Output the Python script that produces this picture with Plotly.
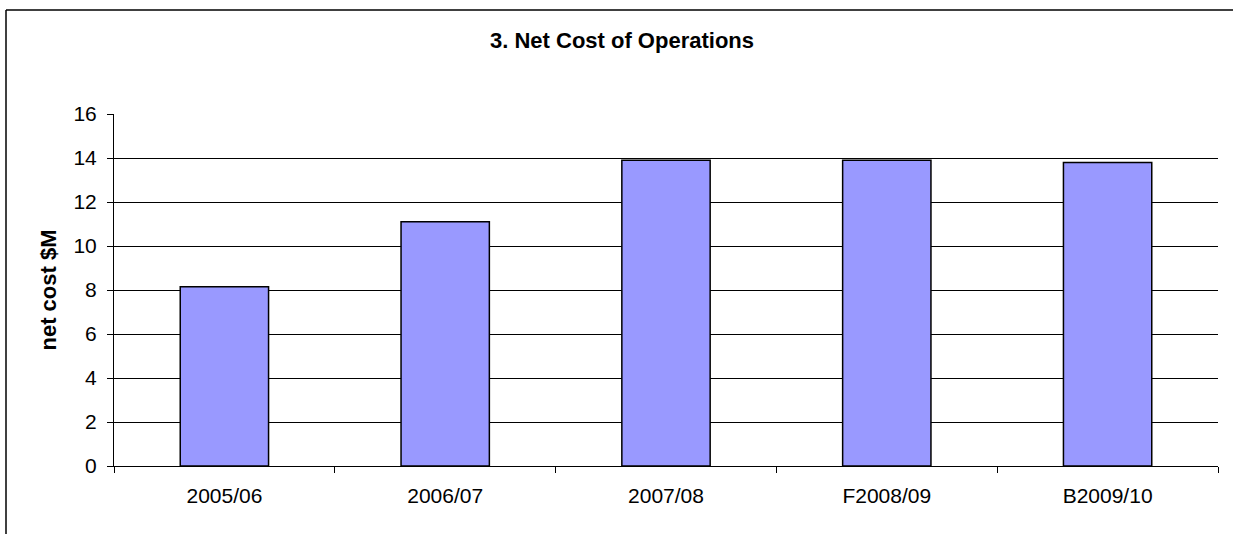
import plotly.graph_objects as go

categories = ["2005/06", "2006/07", "2007/08", "F2008/09", "B2009/10"]
net_cost = [8.15, 11.1, 13.9, 13.9, 13.8]
y_ticks = [0, 2, 4, 6, 8, 10, 12, 14, 16]

W, H = 1233, 534
ML, MR, MT, MB = 114, 15, 114, 68
pw = W - ML - MR
ph = H - MT - MB

fig = go.Figure(
    go.Bar(
        x=categories,
        y=net_cost,
        marker=dict(color="#9999FF", line=dict(color="#000000", width=1.5)),
        hoverinfo="x+y",
    )
)

font = "Arial, Liberation Sans, sans-serif"

# frame lines (left and top edges of the chart border)
fx = (6 - ML) / pw
fy_top = (H - MB - 10) / ph
fy_bot = (H - MB - H) / ph
fx_right = (W - ML) / pw

fig.update_layout(
    width=W,
    height=H,
    margin=dict(l=ML, r=MR, t=MT, b=MB),
    paper_bgcolor="white",
    plot_bgcolor="white",
    bargap=0.6,
    showlegend=False,
    title=dict(
        text="<b>3. Net Cost of Operations</b>",
        x=622 / W,
        xanchor="center",
        y=1 - 40 / H,
        yanchor="middle",
        font=dict(family=font, size=22, color="black"),
    ),
    xaxis=dict(
        type="category",
        tickson="boundaries",
        ticks="outside",
        ticklen=6,
        tickcolor="black",
        showline=True,
        linecolor="black",
        linewidth=1,
        showgrid=False,
        tickfont=dict(family=font, size=21, color="black"),
        ticklabelstandoff=11,
    ),
    yaxis=dict(
        range=[0, 16],
        tickvals=y_ticks,
        ticks="outside",
        ticklen=6,
        tickcolor="black",
        showline=True,
        linecolor="black",
        linewidth=1,
        showgrid=True,
        gridcolor="black",
        gridwidth=1,
        zeroline=False,
        tickfont=dict(family=font, size=21, color="black"),
        ticklabelstandoff=6,
        title=dict(
            text="<b>net cost $M</b>",
            font=dict(family=font, size=22, color="black"),
            standoff=10,
        ),
    ),
    shapes=[
        dict(type="line", xref="paper", yref="paper", x0=fx, x1=fx, y0=fy_bot, y1=fy_top,
             line=dict(color="black", width=1.5)),
        dict(type="line", xref="paper", yref="paper", x0=fx, x1=fx_right, y0=fy_top, y1=fy_top,
             line=dict(color="black", width=1.5)),
    ],
)

fig.write_html("out.html", config={"displayModeBar": False})
